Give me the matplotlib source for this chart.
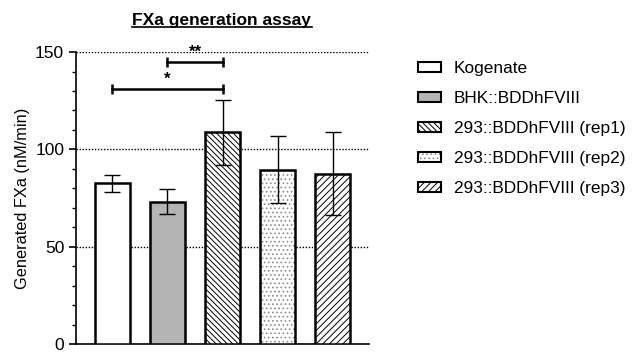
import matplotlib.pyplot as plt
import matplotlib.patches as mpatches
import numpy as np

plt.rcParams['font.family'] = ['Liberation Sans', 'DejaVu Sans']
plt.rcParams['hatch.linewidth'] = 0.7

# data
groups = ['Kogenate', 'BHK::BDDhFVIII', '293::BDDhFVIII (rep1)',
          '293::BDDhFVIII (rep2)', '293::BDDhFVIII (rep3)']
means = [82.6, 73.2, 108.8, 89.6, 87.5]
errors = [4.4, 6.6, 16.8, 17.2, 21.3]
fills = ['white', '#b4b4b4', 'white', 'white', 'white']
hatches = [None, None, '\\' * 6, '....', '/' * 5]
hatch_colors = ['black', 'black', 'black', '#8c8c8c', 'black']

# significance brackets: (from group, to group, height, label)
sig = [(1, 2, 144.8, '**'), (0, 2, 131.2, '*')]

fig = plt.figure(figsize=(6.32, 3.54), dpi=100)
ax = fig.add_axes([0.1203, 0.0282, 0.4636, 0.8248])

x = np.arange(len(groups))
w = 0.636
# fill + hatch layer (hatch takes its colour from the edge)
ax.bar(x, means, width=w, color=fills, edgecolor=hatch_colors,
       hatch=hatches, linewidth=0, zorder=3)
# outline layer
ax.bar(x, means, width=w, color='none', edgecolor='black',
       linewidth=1.8, zorder=3.5)
ax.errorbar(x, means, yerr=errors, fmt='none', ecolor='black',
            elinewidth=1.0, capsize=5.5, capthick=1.0, zorder=4)

for a, b, y, lab in sig:
    ax.plot([a, b], [y, y], color='black', lw=1.8, zorder=5,
            marker='|', markersize=6.5, markeredgewidth=1.8)
    ax.text((a + b) / 2, y + 1.0, lab, ha='center', va='bottom',
            fontsize=12, fontweight='bold')

for yv in [50, 100, 150]:
    ax.axhline(yv, color='black', lw=1.0, ls=(0, (1, 1.2)), zorder=1)

ax.set_xlim(-0.66, 4.66)
ax.set_ylim(0, 150)
ax.set_yticks([0, 50, 100, 150])
ax.set_yticks(np.arange(0, 151, 10), minor=True)
ax.set_xticks([])
ax.tick_params(axis='y', labelsize=12.5, length=5, width=1.2)
ax.tick_params(axis='y', which='minor', length=3, width=1.0)
for s in ['top', 'right']:
    ax.spines[s].set_visible(False)
ax.spines['left'].set_linewidth(1.2)
ax.spines['bottom'].set_linewidth(1.2)
ax.set_ylabel('Generated FXa (nM/min)', fontsize=11.8)

fig.text(0.3508, 0.9435, 'FXa generation assay', ha='center', va='center',
         fontsize=12.5, fontweight='bold')
# underline
fig.add_artist(plt.Line2D([0.2084, 0.4932], [0.9235, 0.9235], color='black', lw=1.2))

handles = []
for f, h, hc in zip(fills, hatches, hatch_colors):
    fill_p = mpatches.Patch(facecolor=f, edgecolor=hc, hatch=h, linewidth=0)
    edge_p = mpatches.Patch(facecolor='none', edgecolor='black', linewidth=1.5)
    handles.append((fill_p, edge_p))
fig.legend(handles, groups, loc='upper left', bbox_to_anchor=(0.651, 0.846),
           frameon=False, fontsize=12.4, handlelength=1.3, handleheight=0.5,
           labelspacing=0.87, handletextpad=0.75, borderaxespad=0)

fig.savefig('out.png', dpi=100)
